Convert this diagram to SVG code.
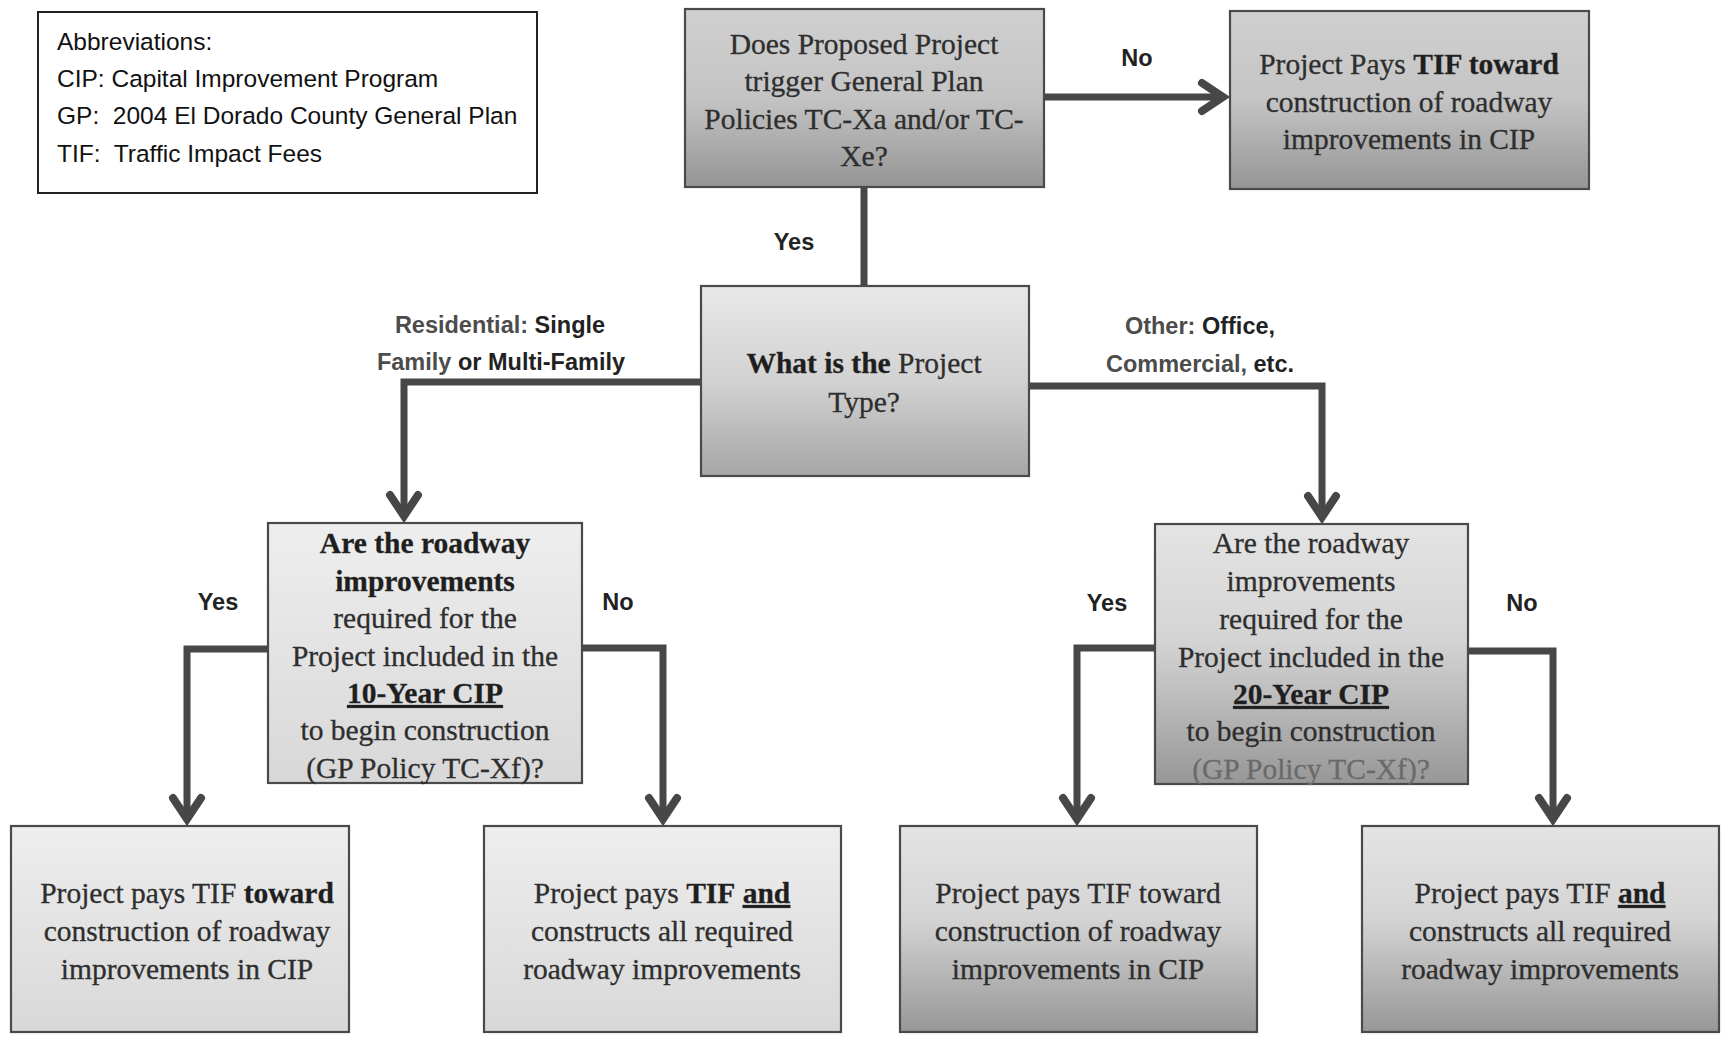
<svg xmlns="http://www.w3.org/2000/svg" width="1722" height="1040" viewBox="0 0 1722 1040">
<style>
.box{stroke:#4a4a4a;stroke-width:2.2}
.st{font-family:"Liberation Serif","Times New Roman",serif;font-size:29.5px;fill:#2e2e2e;stroke:#2e2e2e;stroke-width:0.3;text-anchor:middle}
.b{font-weight:bold;fill:#1e1e1e}
.u{text-decoration:underline}
.lb{font-family:"Liberation Sans",Arial,sans-serif;font-size:23.5px;font-weight:bold;fill:#222;text-anchor:middle}
.ab{font-family:"Liberation Sans",Arial,sans-serif;font-size:24.5px;fill:#111}
.rg{fill:#4c4c4c}
.cn{fill:none;stroke:#474747;stroke-width:7;stroke-linejoin:miter}
</style>
<defs>
<linearGradient id="gDark" x1="0" y1="0" x2="0" y2="1"><stop offset="0" stop-color="#d0d0d0"/><stop offset="0.5" stop-color="#c4c4c4"/><stop offset="1" stop-color="#959595"/></linearGradient>
<linearGradient id="gMid" x1="0" y1="0" x2="0" y2="1"><stop offset="0" stop-color="#e8e8e8"/><stop offset="0.5" stop-color="#d2d2d2"/><stop offset="1" stop-color="#a6a6a6"/></linearGradient>
<linearGradient id="gLight" x1="0" y1="0" x2="0" y2="1"><stop offset="0" stop-color="#eeeeee"/><stop offset="1" stop-color="#d8d8d8"/></linearGradient>
<linearGradient id="gGrad" x1="0" y1="0" x2="0" y2="1"><stop offset="0" stop-color="#e4e4e4"/><stop offset="0.45" stop-color="#d4d4d4"/><stop offset="1" stop-color="#979797"/></linearGradient>
<marker id="ah" viewBox="0 0 40 40" refX="27" refY="20" markerWidth="40" markerHeight="40" markerUnits="userSpaceOnUse" orient="auto">
<path d="M6,6 L27,20 L6,34" fill="none" stroke="#474747" stroke-width="8" stroke-linecap="round" stroke-linejoin="miter"/>
</marker>
</defs>
<rect width="1722" height="1040" fill="#ffffff"/>

<g id="connectors">
<path class="cn" d="M1044,97 H1223" marker-end="url(#ah)"/>
<path class="cn" d="M864,187 V286"/>
<path class="cn" d="M701,382 H404 V516" marker-end="url(#ah)"/>
<path class="cn" d="M1029,386 H1322 V517" marker-end="url(#ah)"/>
<path class="cn" d="M268,649 H187 V819" marker-end="url(#ah)"/>
<path class="cn" d="M582,648 H663 V819" marker-end="url(#ah)"/>
<path class="cn" d="M1155,648 H1077 V819" marker-end="url(#ah)"/>
<path class="cn" d="M1468,651 H1553 V819" marker-end="url(#ah)"/>
<text class="lb" x="1137" y="66">No</text>
<text class="lb" x="794" y="250">Yes</text>
<text class="lb" x="500" y="333"><tspan class="rg">Residential:</tspan> Single</text>
<text class="lb" x="501" y="370"><tspan class="rg">Family</tspan> or Multi-Family</text>
<text class="lb" x="1200" y="334"><tspan class="rg">Other:</tspan> Office,</text>
<text class="lb" x="1200" y="372"><tspan class="rg">Commercial,</tspan> etc.</text>
<text class="lb" x="218" y="610">Yes</text>
<text class="lb" x="618" y="610">No</text>
<text class="lb" x="1107" y="611">Yes</text>
<text class="lb" x="1522" y="611">No</text>
</g>

<g id="abbreviations">
<rect x="38" y="12" width="499" height="181" fill="#ffffff" stroke="#222" stroke-width="2"/>
<text class="ab" x="57" y="50">Abbreviations:</text>
<text class="ab" x="57" y="87">CIP: Capital Improvement Program</text>
<text class="ab" x="57" y="124" xml:space="preserve">GP:  2004 El Dorado County General Plan</text>
<text class="ab" x="57" y="162" xml:space="preserve">TIF:  Traffic Impact Fees</text>
</g>

<g id="q-trigger">
<rect class="box" x="685" y="9" width="359" height="178" fill="url(#gDark)"/>
<text class="st" x="864" y="54">Does Proposed Project</text>
<text class="st" x="864" y="91">trigger General Plan</text>
<text class="st" x="864" y="129">Policies TC-Xa and/or TC-</text>
<text class="st" x="864" y="166">Xe?</text>
</g>

<g id="r-no-trigger">
<rect class="box" x="1230" y="11" width="359" height="178" fill="url(#gDark)"/>
<text class="st" x="1409" y="74">Project Pays <tspan class="b">TIF toward</tspan></text>
<text class="st" x="1409" y="112">construction of roadway</text>
<text class="st" x="1409" y="149">improvements in CIP</text>
</g>

<g id="q-type">
<rect class="box" x="701" y="286" width="328" height="190" fill="url(#gMid)"/>
<text class="st" x="864" y="373"><tspan class="b">What is the</tspan> Project</text>
<text class="st" x="864" y="412">Type?</text>
</g>

<g id="q-10yr">
<rect class="box" x="268" y="523" width="314" height="260" fill="url(#gLight)"/>
<text class="st b" x="425" y="553">Are the roadway</text>
<text class="st b" x="425" y="591">improvements</text>
<text class="st" x="425" y="628">required for the</text>
<text class="st" x="425" y="666">Project included in the</text>
<text class="st b u" x="425" y="703">10-Year CIP</text>
<text class="st" x="425" y="740">to begin construction</text>
<text class="st" x="425" y="778">(GP Policy TC-Xf)?</text>
</g>

<g id="q-20yr">
<rect class="box" x="1155" y="524" width="313" height="260" fill="url(#gGrad)"/>
<text class="st" x="1311" y="553">Are the roadway</text>
<text class="st" x="1311" y="591">improvements</text>
<text class="st" x="1311" y="629">required for the</text>
<text class="st" x="1311" y="667">Project included in the</text>
<text class="st b u" x="1311" y="704">20-Year CIP</text>
<text class="st" x="1311" y="741">to begin construction</text>
<text class="st" x="1311" y="779" style="fill:#6a6a6a;stroke:#6a6a6a">(GP Policy TC-Xf)?</text>
</g>

<g id="r-res-yes">
<rect class="box" x="11" y="826" width="338" height="206" fill="url(#gLight)"/>
<text class="st" x="187" y="903">Project pays TIF <tspan class="b">toward</tspan></text>
<text class="st" x="187" y="941">construction of roadway</text>
<text class="st" x="187" y="979">improvements in CIP</text>
</g>

<g id="r-res-no">
<rect class="box" x="484" y="826" width="357" height="206" fill="url(#gLight)"/>
<text class="st" x="662" y="903">Project pays <tspan class="b">TIF</tspan> <tspan class="b u">and</tspan></text>
<text class="st" x="662" y="941">constructs all required</text>
<text class="st" x="662" y="979">roadway improvements</text>
</g>

<g id="r-oth-yes">
<rect class="box" x="900" y="826" width="357" height="206" fill="url(#gGrad)"/>
<text class="st" x="1078" y="903">Project pays TIF toward</text>
<text class="st" x="1078" y="941">construction of roadway</text>
<text class="st" x="1078" y="979">improvements in CIP</text>
</g>

<g id="r-oth-no">
<rect class="box" x="1362" y="826" width="357" height="206" fill="url(#gGrad)"/>
<text class="st" x="1540" y="903">Project pays TIF <tspan class="b u">and</tspan></text>
<text class="st" x="1540" y="941">constructs all required</text>
<text class="st" x="1540" y="979">roadway improvements</text>
</g>
</svg>
